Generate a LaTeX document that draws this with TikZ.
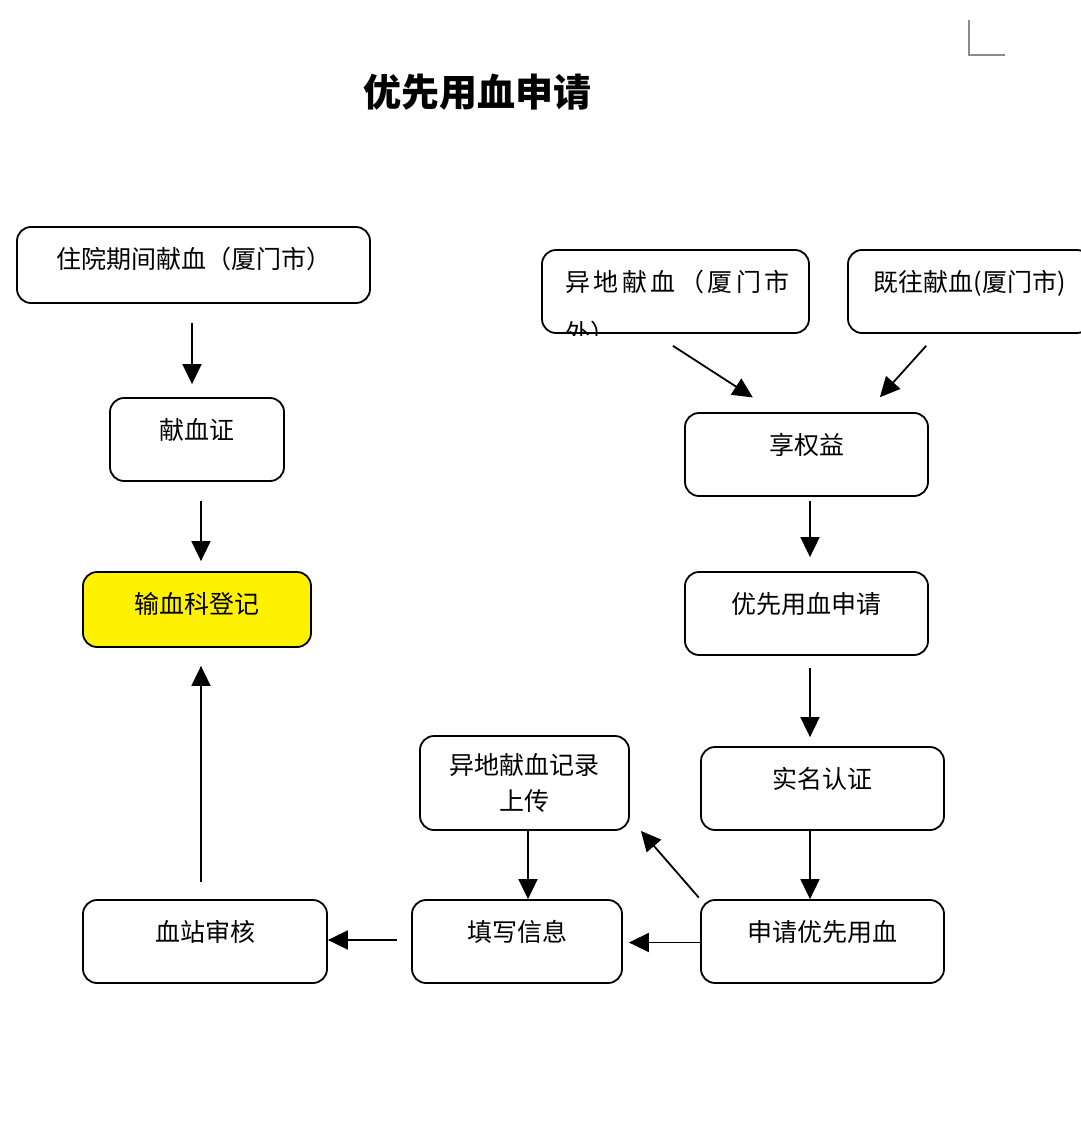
\documentclass[tikz,border=0pt]{standalone}
\usepackage{fontspec}
\setmainfont{Noto Sans CJK SC}
\usepackage{tikz}
\usetikzlibrary{arrows.meta,positioning}

\begin{document}
\begin{tikzpicture}[x=1pt, y=-1pt,
    box/.style={draw, line width=1.8pt, rounded corners=14pt, inner sep=0pt,
        minimum width=243pt, minimum height=83pt, text height=15pt, text depth=16pt,
        font=\fontsize{25}{30}\selectfont},
    txt/.style={inner sep=0pt, font=\fontsize{25}{30}\selectfont},
    arr/.style={line width=1.8pt, -{Triangle[length=20pt, width=19pt]}}]
    \useasboundingbox (0,0) rectangle (1080,1145);

    % Title and page corner
    \node [font=\fontsize{38}{44}\selectfont\bfseries] (title) at (477,92) {优先用血申请};
    \draw [black!45, line width=1.2pt] (969,20) -- (969,55) -- (1005,55);

    % Left column
    \node [box, minimum width=353pt, minimum height=76pt, text height=18pt, text depth=12pt] (stay) at (193.5,265) {住院期间献血（厦门市）};
    \node [box, minimum width=174pt] (card) at (197,439.5) {献血证};
    \node [box, minimum width=228pt, minimum height=75pt, text height=19pt, text depth=12pt, fill=yellow] (reg) at (197,609.5) {输血科登记};
    \node [box, minimum width=244pt] (check) at (205,941.5) {血站审核};

    % Right column
    \node [box, minimum width=267pt] (away) at (675.5,291.5) {};
    \begin{scope}
        \clip (away.north west) rectangle ([yshift=-2]away.south east);
        \node [txt, anchor=base west, font=\fontsize{25}{30}\selectfont\addfontfeature{LetterSpace=14}] (away1) at (565,291) {异地献血（厦门市};
        \node [txt, anchor=base west] (away2) at (565,342) {外）};
    \end{scope}
    \node [box] (past) at (969.5,291.5) {既往献血(厦门市)};
    \node [box] (right) at (806.5,454.5) {享权益};
    \node [box] (apply) at (806.5,613.5) {优先用血申请};
    \node [box] (real) at (822.5,788.5) {实名认证};
    \node [box] (req) at (822.5,941.5) {申请优先用血};
    \node [box, minimum width=209pt, minimum height=94pt, text height=, text depth=, align=center,
        font=\fontsize{25}{36}\selectfont] (upload) at (524.5,783) {异地献血记录\\上传};
    \node [box, minimum width=210pt] (fill) at (517,941.5) {填写信息};

    % Arrows
    \draw [arr, shorten <=19pt, shorten >=13pt] ([xshift=-1.5]stay.south) -- ([xshift=-5]card.north);
    \draw [arr, shorten <=19pt, shorten >=10pt] ([xshift=4]card.south) -- ([xshift=4]reg.north);
    \draw [arr, shorten <=17pt, shorten >=18pt] ([xshift=-4]check.north) -- ([xshift=4]reg.south);
    \draw [arr, shorten <=22pt, shorten >=27pt] ([xshift=-21]away.south) -- ([xshift=-31]right.north);
    \draw [arr, shorten <=16pt, shorten >=20pt] ([xshift=-32.6]past.south) -- ([xshift=60]right.north);
    \draw [arr, shorten <=4pt, shorten >=14pt] ([xshift=3.5]right.south) -- ([xshift=3.5]apply.north);
    \draw [arr, shorten <=12pt, shorten >=9pt] ([xshift=3.5]apply.south) -- ([xshift=-12.5]real.north);
    \draw [arr] ([xshift=-12.5]real.south) -- ([xshift=-12.5]req.north);
    \draw [arr] ([xshift=3.5]upload.south) -- ([xshift=11]fill.north);
    \draw [arr, shorten <=2pt] (req.north west) -- ([xshift=11]upload.south east);
    \draw [arr, shorten >=6pt] ([yshift=-1]req.west) -- ([yshift=-1]fill.east);
    \draw [arr, shorten <=14pt] ([yshift=1.5]fill.west) -- ([yshift=1.5]check.east);
\end{tikzpicture}
\end{document}
